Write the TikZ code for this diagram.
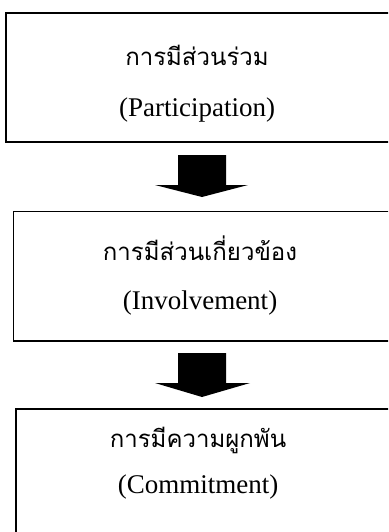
\documentclass[tikz,border=0pt]{standalone}
\usepackage{fontspec}
\setmainfont{Liberation Serif}
\newfontfamily\thaifont[Script=Thai]{Loma}
\begin{document}
\begin{tikzpicture}[x=1pt,y=-1pt]
\useasboundingbox (0,0) rectangle (388,532);
\clip (0,0) rectangle (388,532);
\tikzset{
  box/.style={draw, line width=1.6pt, inner sep=0pt, anchor=north west, minimum width=400pt},
  thai/.style={font=\thaifont\fontsize{24}{28}\selectfont},
  eng/.style={font=\fontsize{27}{32}\selectfont},
  blockarrow/.style={fill=black}
}
\node[box, minimum height=129pt] (b1) at (5,12) {};
\node[box, minimum height=129.3pt] (b2) at (12.5,210.7) {};
\node[box, minimum height=140pt] (b3) at (15,408) {};

\node[thai] (t1) at (197,55) {การมีส่วนร่วม};
\node[eng] (e1) at (197,110) {(Participation)};
\node[thai] (t2) at (200,248) {การมีส่วนเกี่ยวข้อง};
\node[eng] (e2) at (200,303) {(Involvement)};
\node[thai] (t3) at (198,440) {การมีความผูกพัน};
\node[eng] (e3) at (198,487) {(Commitment)};

\fill[blockarrow] (178,155) -- (226,155) -- (226,185) -- (248,185) -- (202,197) -- (155,185) -- (178,185) -- cycle;
\fill[blockarrow] (178,353) -- (226,353) -- (226,383) -- (250,383) -- (202,397) -- (155,383) -- (178,383) -- cycle;
\end{tikzpicture}
\end{document}
